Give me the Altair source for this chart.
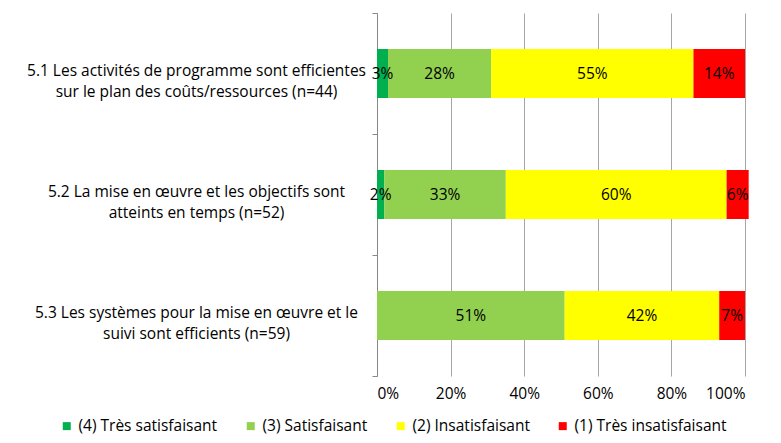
import altair as alt
import pandas as pd

categories = [
    "5.1 Les activités de programme sont efficientes|sur le plan des coûts/ressources (n=44)",
    "5.2 La mise en œuvre et les objectifs sont|atteints en temps (n=52)",
    "5.3 Les systèmes pour la mise en œuvre et le|suivi sont efficients (n=59)",
]
levels = ["(4) Très satisfaisant", "(3) Satisfaisant", "(2) Insatisfaisant", "(1) Très insatisfaisant"]
colors = ["#00B050", "#92D050", "#FFFF00", "#FF0000"]
tres_satisfaisant = [3, 2, 0]
satisfaisant = [28, 33, 51]
insatisfaisant = [55, 60, 42]
tres_insatisfaisant = [14, 6, 7]

series = [tres_satisfaisant, satisfaisant, insatisfaisant, tres_insatisfaisant]
rows = []
for li, (lev, vals) in enumerate(zip(levels, series)):
    for cat, v in zip(categories, vals):
        rows.append({"cat": cat, "level": lev, "rank": li, "pct": v / 100})
df = pd.DataFrame(rows)

FONT = "Open Sans"
FS = 15.5

base = alt.Chart(df).transform_stack(
    stack="pct", groupby=["cat"], sort=[alt.SortField("rank")], as_=["x0", "x1"]
).transform_calculate(mid="(datum.x0 + datum.x1) / 2")

xscale = alt.Scale(domain=[0, 1], nice=False)
yscale = alt.Scale(paddingInner=0, paddingOuter=0)

yaxis = alt.Axis(
    title=None,
    tickBand="extent",
    labelExpr="split(datum.label, '|')",
    labelAlign="center",
    labelPadding=176,
    labelOffset=-3,
    labelLimit=500,
    labelLineHeight=21,
    labelFont=FONT,
    labelFontSize=FS,
    labelColor="#000000",
    tickSize=5,
    tickColor="#888888",
    domainColor="#888888",
    grid=False,
)
xaxis = alt.Axis(
    title=None,
    format=".0%",
    values=[0, 0.2, 0.4, 0.6, 0.8, 1.0],
    grid=True,
    gridColor="#A6A6A6",
    domain=False,
    ticks=False,
    labelPadding=10,
    labelFont=FONT,
    labelFontSize=FS,
    labelColor="#000000",
)

bars = base.mark_bar(height={"band": 0.405}).encode(
    y=alt.Y("cat:N", sort=categories, scale=yscale, axis=yaxis),
    x=alt.X("x0:Q", scale=xscale, axis=xaxis),
    x2="x1:Q",
    color=alt.Color(
        "level:N",
        sort=levels,
        scale=alt.Scale(domain=levels, range=colors),
        legend=alt.Legend(
            title=None,
            orient="none",
            direction="horizontal",
            legendX=-318,
            legendY=405,
            symbolType="square",
            symbolSize=64,
            symbolStrokeWidth=0,
            labelFont=FONT,
            labelFontSize=FS,
            labelColor="#000000",
            columnPadding=25,
            labelOffset=4,
        ),
    ),
    order=alt.Order("rank:Q"),
)

texts = base.transform_filter("datum.pct > 0").mark_text(
    font=FONT, fontSize=FS, color="#000000"
).encode(
    y=alt.Y("cat:N", sort=categories, scale=yscale, axis=yaxis),
    x=alt.X("mid:Q", scale=xscale, axis=xaxis),
    text=alt.Text("pct:Q", format=".0%"),
)

chart = (
    alt.layer(bars, texts)
    .properties(
        width=368,
        height=363,
        autosize=alt.AutoSizeParams(type="none"),
        padding={"left": 369, "top": 5, "right": 28, "bottom": 59},
        background="white",
    )
    .configure_view(stroke=None)
)

chart.save("out.html", embed_options={"renderer": "svg", "actions": False})
